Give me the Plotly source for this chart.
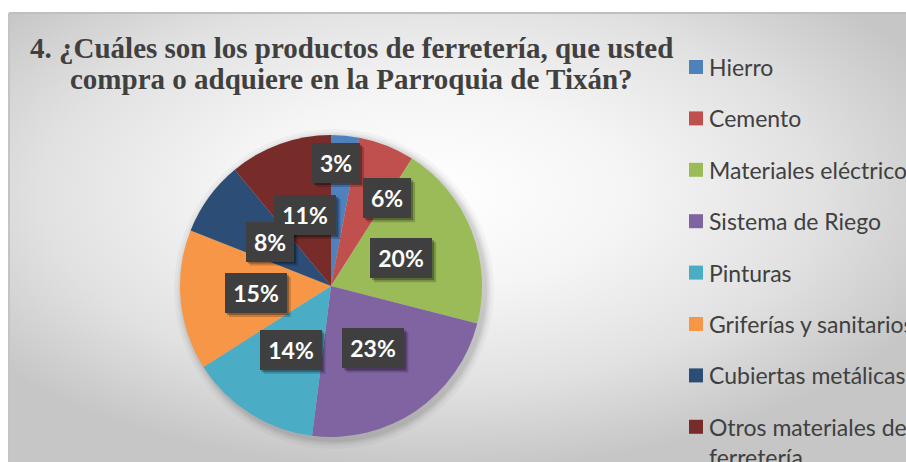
import math
import base64
import textwrap
import plotly.graph_objects as go

# ---------------- data ----------------
labels = ["Hierro", "Cemento", "Materiales eléctricos", "Sistema de Riego",
          "Pinturas", "Griferías y sanitarios", "Cubiertas metálicas",
          "Otros materiales de ferretería"]
values = [3, 6, 20, 23, 14, 15, 8, 11]
title_lines = ["4. ¿Cuáles son los productos de ferretería, que usted",
               "compra o adquiere en la Parroquia de Tixán?"]

# ---------------- style ----------------
colors = ["#4F81BD", "#C0504D", "#9BBB59", "#8064A2",
          "#4BACC6", "#F79646", "#2C4D75", "#772C2A"]
W, H = 906, 462
FW, FH = W, H
CX, CY, R = 331, 286, 151          # pie centre / radius (pixels)
label_frac = [0.815, 0.69, 0.5, 0.5, 0.5, 0.5, 0.5, 0.5]
label_dang = [-3, 11, 0, 0, 0, 0, 0, 0]
TXT = "#404040"


def px(x):
    return x / FW


def py(y):
    return 1 - y / FH


# background radial gradient as svg image
BW, BH = W - 9, H - 13
svg = (
    f'<svg xmlns="http://www.w3.org/2000/svg" width="{BW}" height="{BH}" '
    f'viewBox="0 0 {BW} {BH}" preserveAspectRatio="none">'
    '<defs><radialGradient id="g" cx="0.47" cy="0.40" r="0.62">'
    '<stop offset="0" stop-color="#ffffff"/>'
    '<stop offset="0.35" stop-color="#f5f5f5"/>'
    '<stop offset="0.7" stop-color="#e1e1e1"/>'
    '<stop offset="1" stop-color="#c6c6c6"/>'
    '</radialGradient></defs>'
    f'<rect x="0" y="0" width="{BW}" height="{BH}" fill="url(#g)"/></svg>'
)
uri = "data:image/svg+xml;base64," + base64.b64encode(svg.encode()).decode()

fig = go.Figure(go.Pie(
    labels=labels, values=values, sort=False, direction="clockwise",
    rotation=0, textinfo="none", showlegend=False,
    marker=dict(colors=colors, line=dict(width=0)),
    domain=dict(x=[px(CX - R), px(CX + R)], y=[py(CY + R), py(CY - R)]),
))

shapes = []
annotations = []

# pie soft shadow
for k, a in [(9, 0.03), (6, 0.04), (4, 0.05), (2, 0.06)]:
    shapes.append(dict(type="circle", xref="paper", yref="paper",
                       xsizemode="pixel", ysizemode="pixel",
                       xanchor=px(CX), yanchor=py(CY),
                       x0=-R - k + 3, x1=R + k + 3, y0=-R - k - 3, y1=R + k - 3,
                       fillcolor=f"rgba(0,0,0,{a})", line=dict(width=0),
                       layer="below"))

# border lines
shapes.append(dict(type="line", xref="paper", yref="paper",
                   x0=px(9), x1=1, y0=py(13), y1=py(13),
                   line=dict(color="#bfbfbf", width=2)))
shapes.append(dict(type="line", xref="paper", yref="paper",
                   x0=px(9), x1=px(9), y0=py(13), y1=0,
                   line=dict(color="#c4c4c4", width=2)))

# data labels (boxes) computed from the slice angles
total = sum(values)
cum = 0
for i, v in enumerate(values):
    mid = (cum + v / 2) / total * 360 + label_dang[i]
    cum += v
    f = label_frac[i]
    lx = CX + f * R * math.sin(math.radians(mid))
    ly = CY - f * R * math.cos(math.radians(mid))
    txt = f"{round(v / total * 100)}%"
    w = 34 if len(txt) == 2 else 48
    h = 26
    bw, bh = w + 14, h + 14
    for off, a in [(4, 0.18), (2, 0.3)]:
        shapes.append(dict(type="rect", xref="paper", yref="paper",
                           xsizemode="pixel", ysizemode="pixel",
                           xanchor=px(lx), yanchor=py(ly),
                           x0=-bw / 2 + off, x1=bw / 2 + off,
                           y0=-bh / 2 - off, y1=bh / 2 - off,
                           fillcolor=f"rgba(0,0,0,{a})", line=dict(width=0),
                           layer="above"))
    annotations.append(dict(x=px(lx), y=py(ly), xref="paper", yref="paper",
                            text=f"<b>{txt}</b>", showarrow=False,
                            xanchor="center", yanchor="middle",
                            width=w, height=h, borderpad=7, borderwidth=0,
                            bgcolor="#3f3f3f",
                            font=dict(family="Lato", size=23, color="white")))

# title
for j, (line, yc) in enumerate(zip(title_lines, [48, 79])):
    annotations.append(dict(x=px(351), y=py(yc), xref="paper", yref="paper",
                            text=f"<b>{line}</b>", showarrow=False,
                            xanchor="center", yanchor="middle",
                            font=dict(family="Liberation Serif", size=29,
                                      color=TXT)))

# legend (manual)
LEG_Y0, LEG_STEP = 67, 51.4
for i, lab in enumerate(labels):
    yc = LEG_Y0 + i * LEG_STEP
    shapes.append(dict(type="rect", xref="paper", yref="paper",
                       x0=px(689), x1=px(703), y0=py(yc + 7), y1=py(yc - 7),
                       fillcolor=colors[i], line=dict(width=0)))
    wrapped = "<br>".join(textwrap.wrap(lab, 22))
    annotations.append(dict(x=px(708), y=py(yc - 15), xref="paper",
                            yref="paper", text=wrapped, showarrow=False,
                            xanchor="left", yanchor="top", align="left",
                            borderpad=0,
                            font=dict(family="Lato", size=23, color=TXT)))

fig.update_layout(
    width=FW, height=FH, margin=dict(l=0, r=0, t=0, b=0),
    paper_bgcolor="white", plot_bgcolor="white",
    shapes=shapes, annotations=annotations,
    images=[dict(source=uri, xref="paper", yref="paper",
                 x=px(9), y=py(13), sizex=(W - 9) / FW, sizey=(H - 13) / FH,
                 xanchor="left", yanchor="top", sizing="stretch",
                 layer="below")],
)

fig.write_html("out.html",
               config={"displayModeBar": False},
               post_script="document.body.style.margin='0';"
                           "document.body.style.overflow='hidden';")
